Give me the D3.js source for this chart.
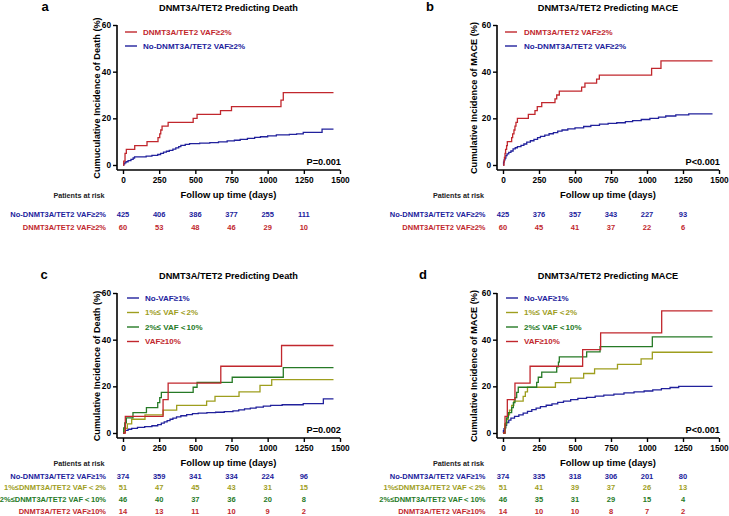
<!DOCTYPE html>
<html><head><meta charset="utf-8">
<script src="https://cdn.jsdelivr.net/npm/d3@7"></script>
<style>
body{margin:0;background:#fff}
svg{display:block}
text{font-family:"Liberation Sans",Arial,Helvetica,sans-serif;font-weight:bold}
</style>
</head><body>
<svg id="chart" width="729" height="516"></svg>
<script>
// ---------------- DATA ----------------
const timeTicks = [0, 250, 500, 750, 1000, 1250, 1500];
const riskTimes = [0, 250, 500, 750, 1000, 1250];
const yTicks = [0, 20, 40, 60];
const maxFollowUp = 1455;

const titles = ["DNMT3A/TET2 Predicting Death", "DNMT3A/TET2 Predicting MACE",
                "DNMT3A/TET2 Predicting Death", "DNMT3A/TET2 Predicting MACE"];
const panelLetters = ["a", "b", "c", "d"];
const yLabels = ["Cumuculative Incidence of Death (%)", "Cumulative Incidence of MACE (%)",
                 "Cumulative Incidence of Death (%)", "Cumulative Incidence of MACE (%)"];
const pValues = ["P=0.001", "P<0.001", "P=0.002", "P<0.001"];

const legendTwo = ["DNMT3A/TET2 VAF≥2%", "No-DNMT3A/TET2 VAF≥2%"];
const legendFour = ["No-VAF≥1%", "1%≤ VAF＜2%", "2%≤ VAF＜10%", "VAF≥10%"];
const riskLabelsTwo = ["No-DNMT3A/TET2 VAF≥2%", "DNMT3A/TET2 VAF≥2%"];
const riskLabelsFour = ["No-DNMT3A/TET2 VAF≥1%", "1%≤DNMT3A/TET2 VAF＜2%",
                        "2%≤DNMT3A/TET2 VAF＜10%", "DNMT3A/TET2 VAF≥10%"];

// panel a curves [day, %]
const aRed = [[0,0],[5,1.7],[14,5.0],[23,6.7],[81,8.3],[166,10.0],[242,11.7],[254,13.3],[261,15.0],[270,16.7],[312,18.3],[485,20.0],[512,21.7],[674,23.3],[750,25.0],[1092,27.8],[1108,31.0]];
const aBlue = [[0,0],[5,0.5],[12,0.9],[20,1.4],[35,1.9],[55,2.4],[70,3.0],[80,3.5],[160,3.8],[200,4.1],[240,4.5],[260,5.0],[280,5.5],[300,5.9],[320,6.3],[345,6.8],[365,7.3],[385,7.9],[400,8.4],[430,8.8],[460,9.2],[530,9.4],[600,9.6],[660,9.9],[720,10.3],[770,10.6],[810,11.0],[860,11.4],[910,11.8],[950,12.1],[1000,12.5],[1060,12.9],[1150,13.1],[1200,13.3],[1246,14.0],[1376,15.4]];
// panel b curves
const bRed = [[0,0],[7,1.7],[10,3.3],[14,5.0],[18,6.7],[25,8.3],[30,10.0],[60,11.7],[67,13.3],[76,15.0],[83,16.7],[90,18.3],[100,20.0],[176,21.7],[222,23.3],[238,25.0],[269,26.7],[361,28.3],[373,30.0],[391,31.7],[546,33.4],[569,35.1],[650,36.8],[669,38.5],[1032,41.4],[1097,44.6]];
const bBlue = [[0,0],[4,1.2],[8,2.2],[14,3.0],[20,4.0],[28,4.8],[40,5.4],[55,6.0],[70,6.9],[85,7.4],[100,7.9],[125,8.4],[145,9.0],[165,9.8],[190,10.4],[215,11.0],[240,11.7],[260,12.3],[290,12.8],[320,13.4],[350,13.9],[380,14.5],[410,15.0],[450,15.5],[500,15.9],[560,16.5],[610,17.0],[670,17.5],[730,17.8],[790,18.1],[850,18.6],[900,19.0],[960,19.5],[1020,20.0],[1080,20.5],[1130,21.0],[1200,21.5],[1290,21.9]];
// panel c curves
const cBlue = [[0,0],[8,0.6],[15,1.1],[35,1.6],[60,2.0],[100,2.4],[150,2.7],[200,3.1],[240,3.6],[265,4.2],[285,4.8],[305,5.3],[325,5.9],[345,6.4],[370,6.9],[400,7.4],[440,7.9],[480,8.3],[520,8.5],[580,8.7],[640,8.9],[700,9.2],[760,9.5],[800,9.9],[840,10.3],[880,10.7],[920,11.1],[970,11.5],[1020,11.8],[1100,12.1],[1246,12.6],[1385,14.6]];
const cOlive = [[0,0],[10,2.0],[30,3.9],[60,5.9],[152,7.8],[277,9.8],[371,11.8],[578,13.7],[636,15.7],[802,17.6],[947,20.4],[1028,22.9]];
const cGreen = [[0,0],[5,2.2],[12,4.3],[23,6.5],[69,8.7],[162,10.9],[240,13.0],[254,15.2],[265,17.4],[485,19.6],[512,21.7],[755,23.9],[1108,28.0]];
const cRed = [[0,0],[16,7.1],[277,14.3],[312,21.4],[676,28.6],[1096,37.5]];
// panel d curves
const dBlue = [[0,0],[3,1.0],[7,1.9],[14,3.3],[25,4.5],[40,5.5],[55,6.4],[80,7.1],[110,7.8],[140,8.5],[170,9.3],[200,10.0],[230,10.7],[260,11.3],[300,11.9],[340,12.5],[380,13.1],[420,13.7],[470,14.3],[520,14.8],[580,15.3],[640,15.8],[700,16.2],[770,16.7],[840,17.2],[910,17.6],[980,18.0],[1040,18.5],[1100,19.0],[1160,19.5],[1220,20.0]];
const dOlive = [[0,0],[12,3.9],[25,5.9],[35,7.8],[45,9.8],[60,11.8],[75,13.7],[140,15.7],[155,17.6],[170,19.6],[364,21.6],[470,23.5],[560,25.5],[636,27.5],[795,29.4],[959,31.8],[1037,34.6]];
const dGreen = [[0,0],[14,2.2],[20,4.3],[25,6.5],[37,8.7],[60,10.9],[72,13.0],[83,15.2],[95,17.4],[106,19.6],[234,21.7],[245,23.9],[269,26.1],[373,28.3],[385,30.4],[391,32.6],[581,34.8],[674,37.0],[1037,41.2]];
const dRed = [[0,0],[14,7.1],[30,14.3],[83,21.4],[188,28.6],[553,35.7],[678,42.9],[1102,52.3]];

// numbers at risk
const aRiskBlue = [425, 406, 386, 377, 255, 111];
const aRiskRed = [60, 53, 48, 46, 29, 10];
const bRiskBlue = [425, 376, 357, 343, 227, 93];
const bRiskRed = [60, 45, 41, 37, 22, 6];
const cRiskBlue = [374, 359, 341, 334, 224, 96];
const cRiskOlive = [51, 47, 45, 43, 31, 15];
const cRiskGreen = [46, 40, 37, 36, 20, 8];
const cRiskRed = [14, 13, 11, 10, 9, 2];
const dRiskBlue = [374, 335, 318, 306, 201, 80];
const dRiskOlive = [51, 41, 39, 37, 26, 13];
const dRiskGreen = [46, 35, 31, 29, 15, 4];
const dRiskRed = [14, 10, 10, 8, 7, 2];

// ---------------- STYLE / LAYOUT ----------------
const COL = {red: "#c1272d", blue: "#21219c", olive: "#9e9e1e", green: "#267a26"};
const svg = d3.select("#chart");

const panels = [
  {col: 0, row: 0, curves: [[aBlue, "blue"], [aRed, "red"]],
   legend: [[legendTwo[0], "red"], [legendTwo[1], "blue"]],
   risk: [[riskLabelsTwo[0], aRiskBlue, "blue"], [riskLabelsTwo[1], aRiskRed, "red"]]},
  {col: 1, row: 0, curves: [[bBlue, "blue"], [bRed, "red"]],
   legend: [[legendTwo[0], "red"], [legendTwo[1], "blue"]],
   risk: [[riskLabelsTwo[0], bRiskBlue, "blue"], [riskLabelsTwo[1], bRiskRed, "red"]]},
  {col: 0, row: 1, curves: [[cBlue, "blue"], [cOlive, "olive"], [cGreen, "green"], [cRed, "red"]],
   legend: [[legendFour[0], "blue"], [legendFour[1], "olive"], [legendFour[2], "green"], [legendFour[3], "red"]],
   risk: [[riskLabelsFour[0], cRiskBlue, "blue"], [riskLabelsFour[1], cRiskOlive, "olive"],
          [riskLabelsFour[2], cRiskGreen, "green"], [riskLabelsFour[3], cRiskRed, "red"]]},
  {col: 1, row: 1, curves: [[dBlue, "blue"], [dOlive, "olive"], [dGreen, "green"], [dRed, "red"]],
   legend: [[legendFour[0], "blue"], [legendFour[1], "olive"], [legendFour[2], "green"], [legendFour[3], "red"]],
   risk: [[riskLabelsFour[0], dRiskBlue, "blue"], [riskLabelsFour[1], dRiskOlive, "olive"],
          [riskLabelsFour[2], dRiskGreen, "green"], [riskLabelsFour[3], dRiskRed, "red"]]}
];

const colX = [{x0: 123, x1: 340, axis: 117, riskRight: 106, ylab: 96.5, letter: 45, title: 228.5, legLine: 125, legText: 143},
              {x0: 503, x1: 719, axis: 497, riskRight: 485.5, ylab: 474, letter: 430, title: 608, legLine: 505, legText: 524}];
const rowY = [{top: 25, zero: 165, axis: 170, dy: 0}, {top: 293, zero: 433, axis: 438, dy: 268}];

panels.forEach((p, i) => {
  const C = colX[p.col], R = rowY[p.row];
  const g = svg.append("g");
  const x = d3.scaleLinear().domain([0, 1500]).range([C.x0, C.x1]);
  const y = d3.scaleLinear().domain([0, 60]).range([R.zero, R.top]);

  // panel letter & title
  g.append("text").attr("x", C.letter - (p.row ? 1 : 0) - (p.col && p.row ? 6 : 0)).attr("y", 6 + R.dy).attr("dy", "0.35em")
    .attr("text-anchor", "middle").attr("font-size", 13).text(panelLetters[i]);
  g.append("text").attr("x", C.title).attr("y", 7.5 + R.dy).attr("dy", "0.35em")
    .attr("text-anchor", "middle").attr("font-size", 9.2).text(titles[i]);

  // y axis
  const yAxis = d3.axisLeft(y).tickValues(yTicks).tickSize(4).tickPadding(2).tickFormat(d3.format("d"));
  const ya = g.append("g").attr("transform", `translate(${C.axis},0)`).call(yAxis);
  ya.select(".domain").attr("d", `M0,${R.top}V${R.axis}`);
  // x axis
  const xAxis = d3.axisBottom(x).tickValues(timeTicks).tickSize(4).tickPadding(3).tickFormat(d3.format("d"));
  const xa = g.append("g").attr("transform", `translate(0,${R.axis})`).call(xAxis);
  xa.select(".domain").attr("d", `M${C.axis},0H${C.x1}`);
  [ya, xa].forEach(a => {
    a.select(".domain").attr("stroke", "#000").attr("stroke-width", 1.6);
    a.selectAll(".tick line").attr("stroke", "#000").attr("stroke-width", 1.4);
    a.selectAll(".tick text").attr("font-size", 8.3).attr("fill", "#000")
      .style("font-family", "'Liberation Sans',Arial,sans-serif").style("font-weight", "bold");
  });

  // y label
  g.append("text").attr("transform", `translate(${C.ylab},${R.dy + 98}) rotate(-90)`)
    .attr("text-anchor", "middle").attr("dy", "0.35em").attr("font-size", 9.2).text(yLabels[i]);
  // x label
  g.append("text").attr("x", C.title).attr("y", 195 + R.dy).attr("dy", "0.35em")
    .attr("text-anchor", "middle").attr("font-size", 9.4).text("Follow up time (days)");

  // curves
  const line = d3.line().x(d => x(d[0])).y(d => y(d[1])).curve(d3.curveStepAfter);
  p.curves.forEach(([data, c]) => {
    const pts = data.concat([[maxFollowUp, data[data.length - 1][1]]]);
    g.append("path").attr("d", line(pts)).attr("fill", "none")
      .attr("stroke", COL[c]).attr("stroke-width", 1.3);
  });

  // legend
  const four = p.legend.length === 4;
  const legY0 = four ? 298 : 32;
  const legStep = four ? 14.5 : 14;
  p.legend.forEach(([label, c], k) => {
    const yy = legY0 + k * legStep;
    const lx = C.legLine + (four && p.col === 0 ? 2 : (four ? 1 : 0));
    g.append("line").attr("x1", lx).attr("x2", lx + 12).attr("y1", yy).attr("y2", yy)
      .attr("stroke", COL[c]).attr("stroke-width", 1.4);
    g.append("text").attr("x", C.legText + (four && p.col === 0 ? 2 : 0)).attr("y", yy).attr("dy", "0.35em")
      .attr("font-size", 8).attr("fill", COL[c]).text(label);
  });

  // p value
  g.append("text").attr("x", C.x1 + 1).attr("y", 162 + R.dy).attr("dy", "0.35em")
    .attr("text-anchor", "end").attr("font-size", 9.2).text(pValues[i]);

  // risk table
  g.append("text").attr("x", C.riskRight - 27).attr("y", 195 + R.dy).attr("dy", "0.35em")
    .attr("text-anchor", "middle").attr("font-size", 7.2).attr("fill", "#222").text("Patients at risk");
  const rY0 = four ? 476 - 268 : 214.3;
  const rStep = four ? 11.8 : 13.5;
  p.risk.forEach(([label, vals, c], k) => {
    const yy = rY0 + k * rStep + R.dy;
    g.append("text").attr("x", C.riskRight).attr("y", yy).attr("dy", "0.35em")
      .attr("text-anchor", "end").attr("font-size", 7.5).attr("fill", COL[c]).text(label);
    vals.forEach((v, j) => {
      g.append("text").attr("x", x(riskTimes[j])).attr("y", yy).attr("dy", "0.35em")
        .attr("text-anchor", "middle").attr("font-size", 7.5).attr("fill", COL[c]).text(v);
    });
  });
});
</script>
</body></html>
